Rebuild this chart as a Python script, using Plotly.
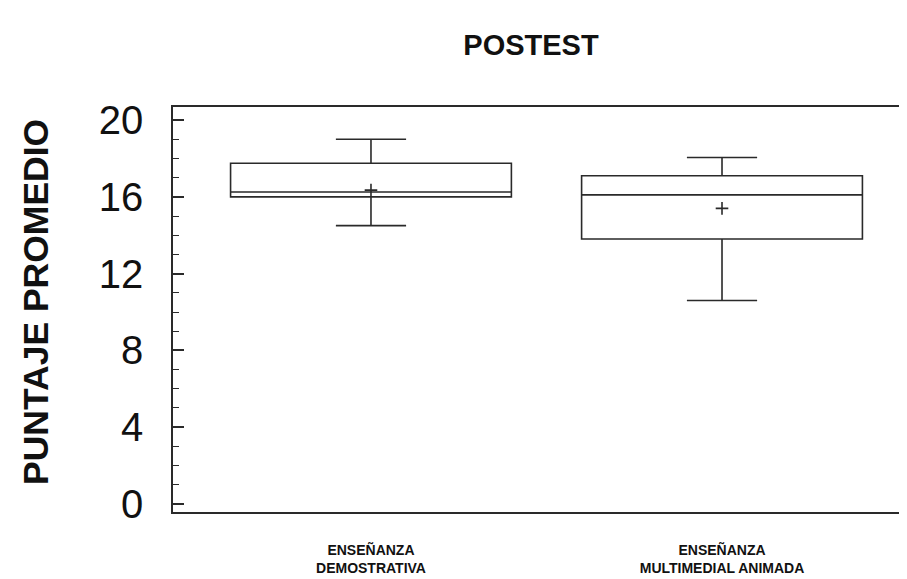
import plotly.graph_objects as go

categories = ["ENSEÑANZA<br>DEMOSTRATIVA", "ENSEÑANZA<br>MULTIMEDIAL ANIMADA"]
lower_whisker = [14.5, 10.6]
q1 = [16.0, 13.8]
median = [16.25, 16.1]
q3 = [17.75, 17.1]
upper_whisker = [19.0, 18.05]
mean = [16.35, 15.4]
y_ticks = [0, 4, 8, 12, 16, 20]

ink = "#2a2a2a"
fnt = "Liberation Sans, Arial, sans-serif"

# page body has an 8px default margin, so the figure is sized to fill the window
W, H = 899, 571

fig = go.Figure()
fig.add_trace(go.Box(
    x=categories, q1=q1, median=median, q3=q3,
    lowerfence=lower_whisker, upperfence=upper_whisker,
    fillcolor="white", line=dict(color=ink, width=1.6),
    whiskerwidth=0.25, boxpoints=False, showlegend=False, hoverinfo="skip",
))
fig.add_trace(go.Scatter(
    x=categories, y=mean, mode="markers",
    marker=dict(symbol="cross-thin", size=9, line=dict(color=ink, width=1.6)),
    showlegend=False, hoverinfo="skip",
))
fig.add_trace(go.Scatter(
    x=categories, y=mean, mode="markers", yaxis="y2",
    marker=dict(opacity=0), showlegend=False, hoverinfo="skip",
))

yr = [-0.42, 20.68]
fig.update_layout(
    width=W, height=H,
    margin=dict(l=165, r=0, t=99, b=67),
    paper_bgcolor="white", plot_bgcolor="white",
    boxgap=0.2, boxgroupgap=0,
    title=dict(text="<b>POSTEST</b>", x=523/W, xref="container", xanchor="center",
               y=1-37/H, yref="container", yanchor="middle",
               font=dict(family=fnt, size=29, color="#111")),
    xaxis=dict(
        type="category", range=[-0.564, 1.527], automargin=False,
        showline=True, linecolor=ink, linewidth=1.6, mirror=True,
        ticks="", showgrid=False, zeroline=False, ticklabelstandoff=24,
        tickfont=dict(family=fnt, size=14, color="#111"),
        tickprefix="<b>", ticksuffix="</b>",
    ),
    yaxis=dict(
        range=yr, tickvals=y_ticks, ticktext=[str(v) for v in y_ticks],
        automargin=False,
        showline=True, linecolor=ink, linewidth=1.6,
        ticks="inside", ticklen=11, tickwidth=1.6, tickcolor=ink,
        minor=dict(dtick=1, ticks="inside", ticklen=6, tickwidth=1.4, tickcolor=ink),
        showgrid=False, zeroline=False, ticklabelstandoff=20,
        tickfont=dict(family=fnt, size=40, color="#111"),
    ),
    yaxis2=dict(
        range=yr, overlaying="y", side="right", tickvals=y_ticks, automargin=False,
        showticklabels=False, ticks="inside", ticklen=5, tickwidth=1.6,
        tickcolor=ink, showgrid=False, zeroline=False, showline=False,
    ),
    annotations=[dict(
        text="<b>PUNTAJE PROMEDIO</b>", textangle=-90,
        xref="paper", yref="paper", x=(36-173)/734, y=(512-302)/405,
        xanchor="center", yanchor="middle", showarrow=False,
        font=dict(family=fnt, size=35.5, color="#111"),
    )],
)

fig.write_html("out.html")
